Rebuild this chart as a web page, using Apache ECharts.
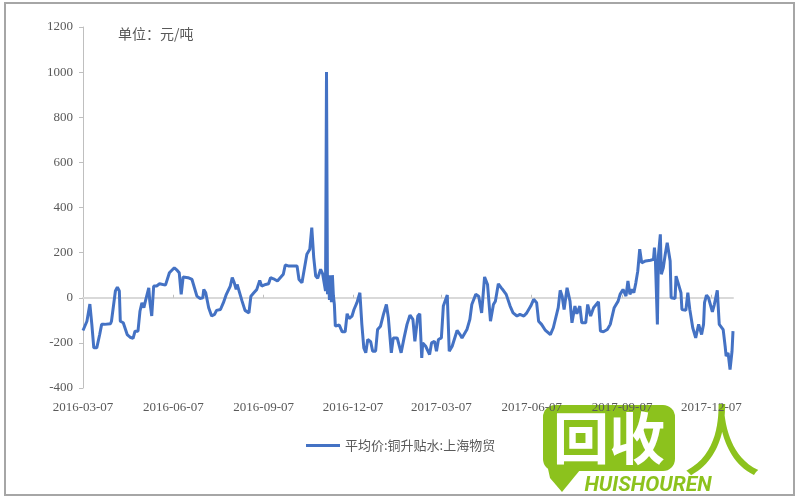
<!DOCTYPE html>
<html><head><meta charset="utf-8">
<script src="https://cdn.jsdelivr.net/npm/echarts@6/dist/echarts.min.js"></script>
<style>html,body{margin:0;padding:0;background:#fff}#c{width:800px;height:500px}</style>
</head><body><div id="c"></div>
<script>
// days since 2016-03-07
const dayOffsets = [0,4,7,9,11,14,17,19,22,28,29,33,35,37,38,41,45,48,51,53,56,58,60,62,64,67,68,70,72,75,78,80,84,86,88,90,93,96,98,100,102,107,111,116,119,122,123,125,128,131,134,136,140,143,146,150,152,154,156,157,159,162,165,169,171,174,177,180,182,186,189,191,194,198,200,204,206,209,214,218,220,223,225,228,231,233,235,237,239,242,244,247,248,249,250,251,252,253,254,255,256,257,259,261,264,267,269,271,274,276,279,282,284,286,288,290,293,295,298,300,303,306,309,311,314,316,318,320,322,324,327,330,333,336,338,341,343,345,346,349,351,353,355,358,360,362,365,367,369,371,373,376,378,381,384,386,388,391,394,396,400,403,406,409,412,415,418,420,423,426,428,431,435,438,442,445,449,452,456,459,462,464,467,469,471,473,476,479,481,484,486,488,490,493,496,498,501,503,506,508,512,514,517,520,522,525,527,530,534,537,539,541,545,547,550,553,555,557,559,561,563,565,567,569,573,578,581,582,583,585,586,588,589,591,593,595,598,599,603,604,606,609,610,614,616,618,621,624,627,630,632,633,635,637,639,641,643,646,648,650,652,654,655,657,659,661,662];
const spreadValues = [-145,-104,-28,-118,-222,-222,-163,-118,-118,-115,-104,30,47,30,-104,-111,-163,-175,-180,-148,-148,-60,-22,-44,-7,44,-15,-81,52,52,62,56,56,50,111,118,133,121,111,15,92,89,81,7,-3,0,37,22,-44,-81,-74,-56,-52,-22,15,52,89,67,37,59,52,-15,-56,-67,7,22,37,77,52,59,62,89,84,74,71,104,145,141,141,141,81,67,62,193,215,311,178,96,86,126,107,30,1000,15,100,-10,100,-20,100,10,-30,-126,-133,-121,-151,-151,-71,-92,-81,-52,-22,22,-118,-222,-244,-185,-195,-237,-237,-141,-126,-74,-30,-89,-244,-178,-185,-178,-170,-244,-178,-118,-77,-96,-193,-81,-71,-267,-200,-215,-207,-252,-200,-193,-237,-185,-178,-37,-30,12,-237,-215,-215,-145,-163,-178,-178,-141,-96,-30,15,7,-67,92,59,-104,-30,-15,62,44,33,15,-37,-67,-81,-74,-81,-67,-37,-7,-22,-104,-118,-111,-145,-145,-163,-133,-126,-44,33,7,-52,44,-15,-111,-37,-71,-37,-111,-111,-30,-81,-44,-52,-18,-148,-151,-141,-118,-111,-44,-15,15,37,7,74,15,37,22,65,118,215,155,163,166,170,222,163,-118,185,281,104,133,193,244,163,0,-3,96,67,22,-52,-56,22,-52,-133,-178,-118,-163,-118,-22,12,0,0,-62,-30,33,-118,-111,-141,-215,-259,-244,-318,-237,-148];
const xTickLabels = ['2016-03-07','2016-06-07','2016-09-07','2016-12-07','2017-03-07','2017-06-07','2017-09-07','2017-12-07'];
const yMin = -400, yMax = 1200, yStep = 200;
const seriesName = '平均价:铜升贴水:上海物贸';
const unitText = '单位：元/吨';

const DAY = 86400000;
function toTime(s){const p=s.split('-').map(Number);return Date.UTC(p[0],p[1]-1,p[2]);}
const t0 = toTime(xTickLabels[0]);
const tickDays = xTickLabels.map(s => Math.round((toTime(s)-t0)/DAY));
const labelByDay = {};
xTickLabels.forEach((s,i)=>{labelByDay[tickDays[i]] = s;});
const data = dayOffsets.map((o,i)=>[o, spreadValues[i]]);
const xMax = dayOffsets[dayOffsets.length-1];
const green = '#8cc21d';

const chart = echarts.init(document.getElementById('c'), null, {renderer:'canvas'});
chart.setOption({
  animation:false,
  backgroundColor:'#fff',
  grid:{left:83,right:67,top:27,bottom:112,containLabel:false},
  legend:{left:301,top:434,icon:'rect',itemWidth:34,itemHeight:3,
    textStyle:{fontFamily:'Noto Sans CJK SC',fontSize:13,color:'#595959'},data:[seriesName]},
  xAxis:[
    {type:'value',position:'bottom',min:0,max:xMax,
      axisLine:{show:false,onZero:false},axisTick:{show:false},splitLine:{show:false},
      axisLabel:{customValues:tickDays,formatter:v=>labelByDay[Math.round(v)]||'',fontFamily:'Liberation Serif',fontSize:13,color:'#595959',margin:13,hideOverlap:false}},
    {type:'value',position:'top',min:0,max:xMax,
      axisLine:{show:true,onZero:true,lineStyle:{color:'#d9d9d9',width:2}},
      axisTick:{show:true,customValues:tickDays.slice(1),length:3,lineStyle:{color:'#bfbfbf'}},
      axisLabel:{show:false},splitLine:{show:false}}
  ],
  yAxis:{type:'value',min:yMin,max:yMax,interval:yStep,
    axisLine:{show:true,onZero:false,lineStyle:{color:'#bfbfbf'}},
    axisTick:{show:true,length:4,lineStyle:{color:'#bfbfbf'}},
    splitLine:{show:false},
    axisLabel:{formatter:v=>String(v),fontFamily:'Liberation Serif',fontSize:13,color:'#595959',margin:10}},
  series:[{type:'line',name:seriesName,data:data,xAxisIndex:0,showSymbol:false,symbol:'none',
    lineStyle:{color:'#4472c4',width:3},itemStyle:{color:'#4472c4'},z:3}],
  graphic:[
    {type:'rect',shape:{x:5,y:3,width:789,height:492},style:{fill:'none',stroke:'#a6a6a6',lineWidth:2},silent:true},
    {type:'text',left:118,top:27,style:{text:unitText,fontFamily:'Noto Sans CJK SC',fontSize:14,fill:'#595959'}},
    {type:'group',z:100,children:[
      {type:'rect',shape:{x:543,y:405,width:132,height:66,r:12},style:{fill:green}},
      {type:'polygon',shape:{points:[[545,455],[580,470],[562,492],[550,478]]},style:{fill:green}},
      {type:'text',x:609,y:438,style:{text:'回收',fontFamily:'Noto Sans CJK SC',fontWeight:'bold',fontSize:56,fill:'#fff',align:'center',verticalAlign:'middle'}},
      {type:'text',x:722,y:440,style:{text:'人',fontFamily:'Noto Sans CJK SC',fontWeight:'normal',fontSize:78,fill:green,align:'center',verticalAlign:'middle'}},
      {type:'text',x:648,y:486,style:{text:'HUISHOUREN',fontFamily:'Roboto',fontWeight:'bold',fontStyle:'italic',fontSize:21,fill:green,align:'center',verticalAlign:'middle'}}
    ]}
  ]
});
</script></body></html>
